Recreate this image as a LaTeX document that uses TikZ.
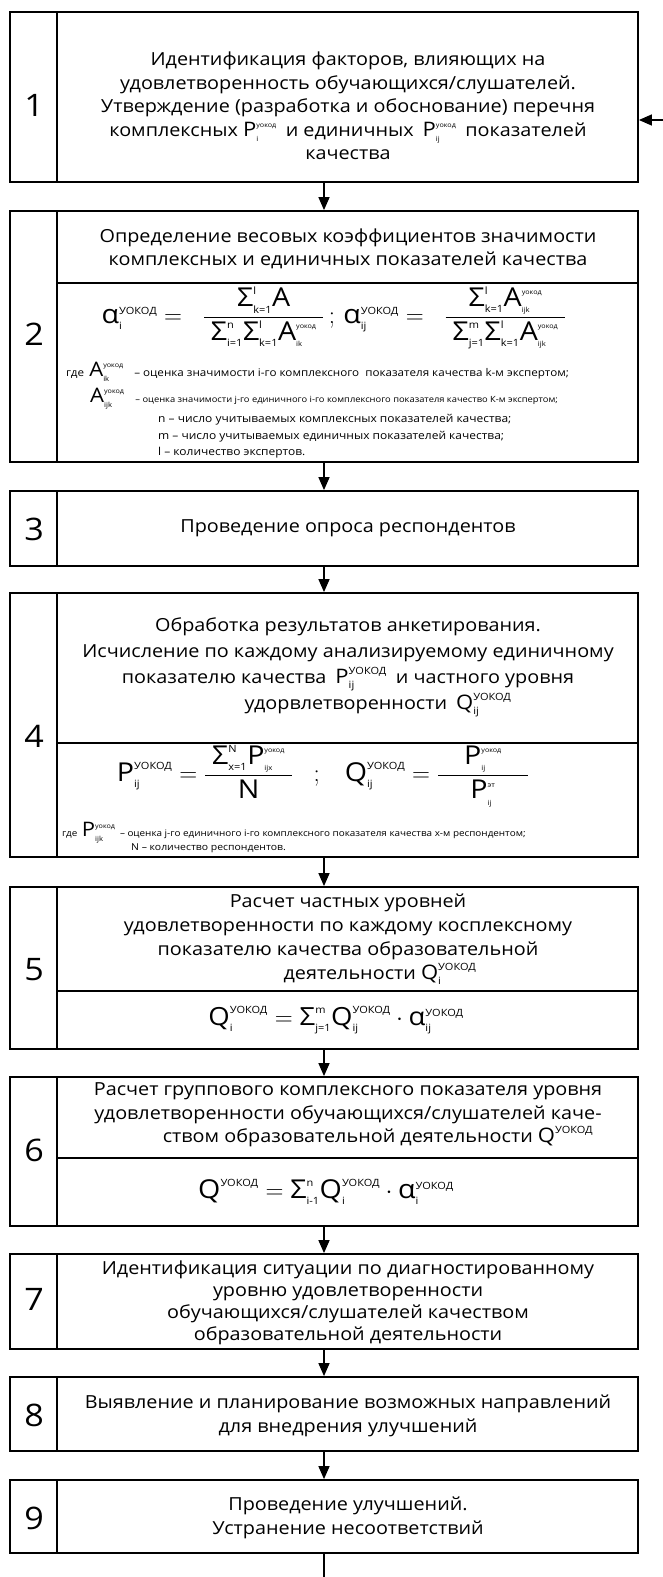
\documentclass[tikz,border=0pt]{standalone}
\usepackage{fontspec}
\usepackage{amsmath}
\setmainfont{Open Sans}[FakeStretch=1.1]
\usetikzlibrary{arrows.meta}
\newcommand{\tx}[1]{\text{#1}}
\newcommand{\up}{\tx{\fontsize{10}{10}\selectfont УОКОД}}
\newcommand{\lo}{\tx{\fontsize{6.5}{6.5}\selectfont уокод}}
\newcommand{\ssc}[1]{\tx{\fontsize{10}{10}\selectfont #1}}
\newcommand{\tsc}[1]{\tx{\fontsize{7}{7}\selectfont #1}}
\newcommand{\myfm}[1]{{\fontsize{20}{20}\selectfont$#1$}}
\begin{document}
\begin{tikzpicture}[x=1pt,y=-1pt,
  box/.style={draw, line width=1.8pt, minimum width=628pt, inner sep=0pt},
  num/.style={font=\fontsize{31}{31}\selectfont},
  txt/.style={align=center, font=\fontsize{18}{23.5}\selectfont},
  frm/.style={font=\fontsize{26}{30}\selectfont},
  note/.style={anchor=west, inner sep=0pt},
  arr/.style={line width=1.4pt, -{Triangle[width=11pt,length=13pt]}},
  sep/.style={line width=1.8pt}]
\useasboundingbox (0,0) rectangle (663,1577);

% boxes
\node[box, minimum height=170pt] (b1) at (324,97) {};
\node[box, minimum height=251pt] (b2) at (324,336.5) {};
\node[box, minimum height=75pt]  (b3) at (324,528.5) {};
\node[box, minimum height=264pt] (b4) at (324,725) {};
\node[box, minimum height=162pt] (b5) at (324,968) {};
\node[box, minimum height=149pt] (b6) at (324,1151.5) {};
\node[box, minimum height=95pt]  (b7) at (324,1301.5) {};
\node[box, minimum height=74pt]  (b8) at (324,1414) {};
\node[box, minimum height=73pt]  (b9) at (324,1516.5) {};

% number columns
\foreach \b in {b1,b2,b3,b4,b5,b6,b7,b8,b9}
  \draw[sep] ([xshift=48pt]\b.north west) -- ([xshift=48pt]\b.south west);

% inner dividers
\draw[sep] (58,283) -- (b2.east |- 0,283);
\draw[sep] (58,743) -- (b4.east |- 0,743);
\draw[sep] (58,991) -- (b5.east |- 0,991);
\draw[sep] (58,1158) -- (b6.east |- 0,1158);

% numbers
\node[num] (n1) at (34,105) {1};
\node[num] (n2) at (34,334) {2};
\node[num] (n3) at (34,529) {3};
\node[num] (n4) at (34,736) {4};
\node[num] (n5) at (34,970) {5};
\node[num] (n6) at (34,1150) {6};
\node[num] (n7) at (34,1299) {7};
\node[num] (n8) at (34,1415) {8};
\node[num] (n9) at (34,1518) {9};

% box 1
\node[txt] (t1) at (348,106) {Идентификация факторов, влияющих на\\
удовлетворенность обучающихся/слушателей.\\
Утверждение (разработка и обоснование) перечня\\
комплексных \myfm{\tx{P}_{\tsc{i}}^{\lo}}\enspace и единичных\enspace \myfm{\tx{P}_{\tsc{ij}}^{\lo}}\enspace показателей\\
качества};

% box 2
\node[txt] (t2) at (348,249) {Определение весовых коэффициентов значимости\\
комплексных и единичных показателей качества};
\node[frm] (f2) at (334,318) {$\tx{α}_{\ssc{i}}^{\up} =\;\; \dfrac{\;\tx{Σ}_{\ssc{k=1}}^{\ssc{l}}\tx{A}\;}{\;\tx{Σ}_{\ssc{i=1}}^{\ssc{n}}\tx{Σ}_{\ssc{k=1}}^{\ssc{l}}\tx{A}_{\tsc{ik}}^{\lo}\;}\,;\,\tx{α}_{\ssc{ij}}^{\up} =\;\; \dfrac{\;\tx{Σ}_{\ssc{k=1}}^{\ssc{l}}\tx{A}_{\tsc{ijk}}^{\lo}\;}{\;\tx{Σ}_{\ssc{j=1}}^{\ssc{m}}\tx{Σ}_{\ssc{k=1}}^{\ssc{l}}\tx{A}_{\tsc{ijk}}^{\lo}\;}$};
\node[note, font=\fontsize{10.6}{12}\selectfont] (g1) at (66,372) {где\enspace{\fontsize{20}{20}\selectfont$\tx{A}^{\lo}_{\tsc{ik}}$}\quad – оценка значимости i-го комплексного\ \ показателя качества k-м экспертом;};
\node[note, font=\fontsize{8.5}{10}\selectfont] (g2) at (90,399) {{\fontsize{20}{20}\selectfont$\tx{A}^{\lo}_{\tsc{ijk}}$}\quad\ – оценка значимости j-го единичного i-го комплексного показателя качество К-м экспертом;};
\node[note, font=\fontsize{10.9}{12}\selectfont] (g3) at (158,420) {n – число учитываемых комплексных показателей качества;};
\node[note, font=\fontsize{10.9}{12}\selectfont] (g4) at (158,437) {m – число учитываемых единичных показателей качества;};
\node[note, font=\fontsize{10.9}{12}\selectfont] (g5) at (158,453) {l – количество экспертов.};

% box 3
\node[txt] (t3) at (348,528.5) {Проведение опроса респондентов};

% box 4
\node[txt, font=\fontsize{18}{26}\selectfont] (t4) at (348,667) {Обработка результатов анкетирования.\\
Исчисление по каждому анализируемому единичному\\
показателю качества\enspace \myfm{\tx{P}_{\ssc{ij}}^{\up}}\enspace и частного уровня\\
\hspace*{60pt}удорвлетворенности\enspace \myfm{\tx{Q}_{\ssc{ij}}^{\up}}};
\node[frm] (f4) at (323,776) {$\tx{P}_{\ssc{ij}}^{\up} = \dfrac{\;\tx{Σ}_{\ssc{x=1}}^{\ssc{N}}\tx{P}_{\tsc{ijx}}^{\lo}\;}{\tx{N}}\;\;\;;\;\;\;\tx{Q}_{\ssc{ij}}^{\up} = \dfrac{\quad\tx{P}_{\tsc{ij}}^{\lo}\quad}{\tx{P}_{\tsc{ij}}^{\tsc{эт}}}$};
\node[note, font=\fontsize{9}{10}\selectfont] (g6) at (62,833) {где\enspace{\fontsize{20}{20}\selectfont$\tx{P}^{\lo}_{\tsc{ijk}}$}\enspace – оценка j-го единичного i-го комплексного показателя качества x-м респондентом;};
\node[note, font=\fontsize{9.5}{10}\selectfont] (g7) at (131,848) {N – количество респондентов.};

% box 5
\node[txt, font=\fontsize{18}{24}\selectfont] (t5) at (348,939) {Расчет частных уровней\\
удовлетворенности по каждому косплексному\\
показателю качества образовательной\\
\hspace*{64pt}деятельности \myfm{\tx{Q}_{\ssc{i}}^{\up}}};
\node[frm, font=\fontsize{25}{28}\selectfont] (f5) at (336,1020) {$\tx{Q}_{\ssc{i}}^{\up} = \tx{Σ}_{\ssc{j=1}}^{\ssc{m}}\tx{Q}_{\ssc{ij}}^{\up}\cdot\tx{α}_{\ssc{ij}}^{\up}$};

% box 6
\node[txt] (t6) at (348,1115) {Расчет группового комплексного показателя уровня\\
удовлетворенности обучающихся/слушателей каче-\\
\hspace*{60pt}ством образовательной деятельности \myfm{\tx{Q}^{\up}}};
\node[frm, font=\fontsize{26}{28}\selectfont] (f6) at (326,1192) {$\tx{Q}^{\up} = \tx{Σ}_{\ssc{i-1}}^{\ssc{n}}\tx{Q}_{\ssc{i}}^{\up}\cdot\tx{α}_{\ssc{i}}^{\up}$};

% box 7
\node[txt, font=\fontsize{18}{22}\selectfont] (t7) at (348,1303) {Идентификация ситуации по диагностированному\\
уровню удовлетворенности\\
обучающихся/слушателей качеством\\
образовательной деятельности};

% box 8
\node[txt] (t8) at (348,1416) {Выявление и планирование возможных направлений\\
для внедрения улучшений};

% box 9
\node[txt] (t9) at (348,1518) {Проведение улучшений.\\
Устранение несоответствий};

% connectors
\draw[arr] (b1.south) -- (b2.north);
\draw[arr] (b2.south) -- (b3.north);
\draw[arr] (b3.south) -- (b4.north);
\draw[arr] (b4.south) -- (b5.north);
\draw[arr] (b5.south) -- (b6.north);
\draw[arr] (b6.south) -- (b7.north);
\draw[arr] (b7.south) -- (b8.north);
\draw[arr] (b8.south) -- (b9.north);
\coordinate (loopend) at (324,1577);
\draw[line width=1.4pt] (b9.south) -- (loopend);
\coordinate (loopin) at (663,120);
\draw[arr] (loopin) -- (b1.east |- loopin);
\end{tikzpicture}
\end{document}
